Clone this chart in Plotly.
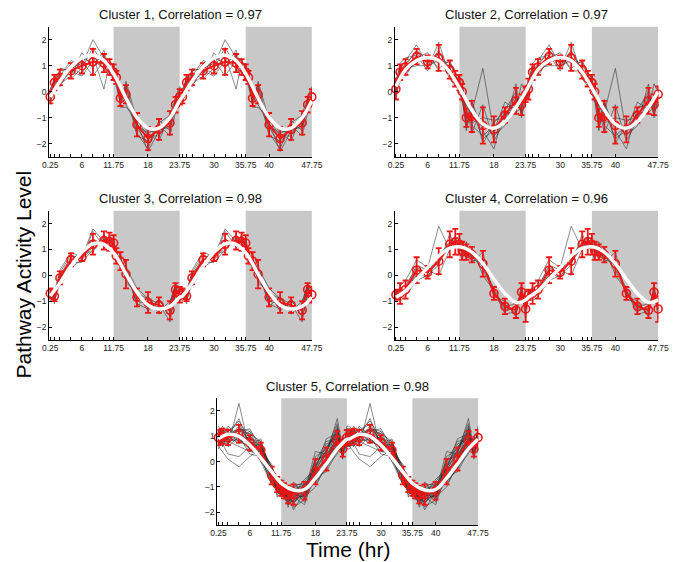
import plotly.graph_objects as go

# ---------------- data ----------------
T_DAY = [0.25, 1, 2, 4, 6, 8, 10, 11, 11.75, 12.25, 13, 14, 16, 18, 20, 22, 23, 23.75]
FIT_T = [0.25, 2, 4, 6, 8, 10, 12, 14, 16, 18, 20, 22, 23.75]

TITLES = ["Cluster 1, Correlation = 0.97", "Cluster 2, Correlation = 0.97",
          "Cluster 3, Correlation = 0.98", "Cluster 4, Correlation = 0.96",
          "Cluster 5, Correlation = 0.98"]

TICK_LABELS = [0.25, 6, 11.75, 18, 23.75, 30, 35.75, 40, 47.75]
TICK_MARKS = [0.25, 1, 2, 4, 6, 8, 10, 11, 11.75, 18, 23.75, 24.25, 25, 26, 28, 30,
              32, 34, 35, 35.75, 40, 47.75]
DARK_PERIODS = [(11.75, 23.75), (35.75, 47.75)]

mean1 = [-0.2, 0.35, 0.55, 0.8, 1.0, 1.15, 1.1, 0.95, 0.75, 0.55, -0.25, -0.1, -1.27, -1.8, -1.45, -1.2, -0.5, -0.2]
err1 = [0.25, 0.3, 0.3, 0.3, 0.3, 0.5, 0.35, 0.3, 0.3, 0.25, 0.3, 0.35, 0.45, 0.45, 0.4, 0.45, 0.3, 0.3]
fit1 = [-0.2, 0.4, 0.95, 1.3, 1.4, 1.2, 0.6, -0.25, -1.0, -1.4, -1.4, -1.0, -0.35]
lines1 = [
    [-0.4, 0.1, 0.6, 1.2, 1.0, 2.0, 1.3, 1.2, 0.9, 0.4, -0.5, 0.2, -1.6, -2.2, -1.1, -1.5, -0.6, -0.3],
    [0.0, 0.6, 0.3, 0.6, 1.5, 0.9, 1.6, 0.8, 0.5, 0.7, 0.0, -0.4, -0.9, -1.6, -1.9, -0.8, -0.3, 0.1],
    [-0.3, 0.3, 0.8, 0.9, 0.7, 1.4, 0.1, 1.1, 1.0, 0.3, -0.3, 0.3, -1.4, -2.0, -1.3, -1.7, -0.8, -0.2],
    [-0.1, 0.5, 0.4, 1.1, 1.2, 0.6, 1.2, 0.7, 0.6, 0.9, -0.6, -0.6, -1.0, -1.5, -1.6, -1.1, -0.4, 0.0],
    [-0.5, 0.2, 0.7, 0.5, 0.9, 1.7, 1.0, 1.3, 0.4, 0.5, 0.2, 0.0, -1.7, -1.9, -1.2, -0.9, -0.7, -0.4],
    [0.1, 0.4, 0.5, 0.7, 1.3, 1.1, 1.4, 0.9, 0.8, 0.6, -0.1, -0.3, -1.2, -2.3, -1.5, -1.3, -0.2, 0.2],
    [-0.2, 0.0, 0.9, 0.8, 0.6, 1.2, 0.9, 0.6, 1.1, 0.2, -0.4, 0.4, -1.1, -1.7, -1.7, -1.0, -0.6, -0.1],
    [-0.3, 0.6, 0.2, 0.9, 1.1, 1.0, 1.2, 1.0, 0.7, 0.7, -0.2, -0.5, -1.3, -1.6, -1.4, -1.4, -0.5, -0.2],
]

mean2 = [0.1, 0.75, 0.95, 1.35, 1.15, 1.3, 0.85, 0.5, 0.35, 0.0, -1.0, -0.95, -1.3, -1.45, -0.9, -0.35, -0.5, -0.1]
err2 = [0.4, 0.3, 0.3, 0.3, 0.25, 0.5, 0.35, 0.3, 0.3, 0.3, 0.35, 0.6, 0.7, 0.5, 0.3, 0.5, 0.4, 0.3]
fit2 = [0.2, 0.85, 1.2, 1.32, 1.2, 0.75, 0.05, -0.7, -1.25, -1.4, -1.15, -0.6, 0.0]
lines2 = [
    [-0.3, 0.6, 1.2, 1.8, 1.0, 1.6, 0.7, 0.3, 0.6, -0.2, -1.5, -0.3, -2.0, -1.2, -0.7, 0.0, -0.9, 0.2],
    [0.4, 1.0, 0.8, 1.1, 1.4, 0.9, 1.2, 0.7, 0.1, 0.3, -0.6, -1.6, -0.5, -1.9, -1.1, -0.6, -0.2, -0.3],
    [0.2, 0.5, 1.1, 1.5, 0.9, 1.9, 0.6, 0.4, 0.5, -0.3, -1.2, -0.8, 0.9, -1.6, -0.8, -0.8, -0.6, 0.0],
    [-0.1, 0.9, 0.7, 1.2, 1.3, 1.1, 1.0, 0.8, 0.2, 0.2, -0.8, -1.3, -1.7, -1.3, -1.2, 0.3, -1.0, -0.2],
    [0.5, 0.7, 1.0, 1.6, 1.2, 1.4, 0.5, 0.2, 0.4, -0.1, -1.1, -0.4, -1.5, -2.2, -0.6, -0.5, -0.3, 0.1],
    [0.0, 0.4, 0.9, 1.0, 1.0, 1.2, 1.1, 0.6, 0.3, 0.1, -0.9, -1.2, -1.0, -1.1, -1.0, -0.1, -0.8, -0.4],
    [0.3, 1.1, 1.3, 1.4, 0.8, 1.5, 0.9, 0.5, 0.6, 0.4, -1.4, -0.7, -1.8, -1.5, -0.4, -0.7, 0.3, 0.0],
    [-0.2, 0.8, 0.6, 1.3, 1.5, 0.8, 0.8, 0.3, 0.0, -0.4, -0.5, -1.0, -1.2, -1.7, -1.3, -0.2, -0.6, -0.1],
]

mean3 = [-0.7, -0.8, -0.1, 0.6, 0.7, 1.2, 1.35, 1.3, 1.25, 0.75, 0.55, 0.05, -0.85, -1.05, -1.15, -1.35, -0.55, -0.75]
err3 = [0.2, 0.2, 0.25, 0.25, 0.15, 0.4, 0.35, 0.35, 0.3, 0.3, 0.35, 0.55, 0.35, 0.4, 0.3, 0.35, 0.25, 0.3]
fit3 = [-0.8, -0.3, 0.35, 0.9, 1.22, 1.2, 0.8, 0.05, -0.65, -1.15, -1.3, -1.2, -0.85]
lines3 = [
    [-0.9, -0.6, 0.1, 0.8, 0.6, 1.7, 1.1, 1.6, 1.0, 0.9, 0.2, 0.4, -1.2, -0.8, -1.5, -1.1, -0.3, -1.0],
    [-0.5, -1.0, -0.3, 0.4, 0.9, 0.9, 1.6, 1.0, 1.5, 0.5, 0.8, -0.3, -0.6, -1.4, -0.9, -1.6, -0.8, -0.5],
    [-0.8, -0.7, 0.0, 0.7, 0.8, 1.4, 1.2, 1.4, 1.3, 1.0, 0.4, 0.2, -1.0, -1.1, -1.3, -1.2, -0.4, -0.9],
    [-0.6, -0.9, -0.2, 0.5, 0.5, 1.0, 1.5, 1.2, 1.1, 0.6, 0.7, -0.2, -0.7, -0.9, -1.1, -1.8, -0.6, -0.6],
    [-1.0, -0.8, 0.2, 0.9, 0.7, 1.8, 1.3, 1.5, 1.4, 0.7, 0.6, 0.1, -1.1, -1.3, -1.0, -1.4, -0.5, -0.8],
    [-0.7, -0.5, -0.4, 0.3, 0.6, 1.1, 1.4, 1.1, 1.2, 0.8, 0.3, -0.1, -0.8, -1.2, -1.2, -1.3, -0.7, -0.7],
    [-0.6, -1.1, 0.0, 0.6, 0.9, 1.3, 1.2, 1.3, 1.2, 0.6, 0.6, 0.3, -0.5, -0.9, -1.4, -1.0, -0.4, -0.6],
]

mean4 = [-0.75, -0.7, -0.55, 0.2, 0.12, 0.55, 1.2, 1.3, 1.2, 0.95, 0.9, 0.8, 0.45, -0.7, -1.2, -1.35, -0.65, -1.3]
err4 = [0.2, 0.4, 0.35, 0.5, 0.25, 0.5, 0.5, 0.5, 0.4, 0.35, 0.3, 0.3, 0.5, 0.25, 0.3, 0.3, 0.35, 0.5]
fit4 = [-0.85, -0.6, -0.15, 0.3, 0.75, 1.05, 1.1, 0.9, 0.45, -0.15, -0.7, -1.05, -0.95]
lines4 = [
    [-0.9, -0.4, -0.2, 0.6, 0.3, 1.9, 1.0, 1.5, 0.9, 0.6, 1.3, 0.5, 0.9, -0.9, -1.1, -1.5, -0.5, -1.7],
    [-0.6, -1.0, -0.8, -0.2, 0.0, 0.4, 1.6, 1.1, 1.4, 1.2, 0.6, 1.1, 0.0, -0.6, -1.4, -1.2, -0.9, -1.0],
    [-0.7, -0.6, -0.5, 0.4, 0.2, 0.0, 1.0, 1.4, 1.5, 0.8, 1.0, 0.7, 0.6, -0.8, -1.0, -1.6, -0.3, -1.4],
    [-0.8, -0.8, -0.7, 0.1, -0.1, 0.7, 1.3, 1.2, 0.9, 1.1, 0.7, 1.0, 0.3, -0.5, -1.3, -1.3, -0.8, -1.2],
    [-0.75, -0.7, -0.55, 0.0, 0.3, 0.5, 1.1, 1.3, 1.2, 1.0, 0.9, 0.6, 0.5, -0.7, -1.2, -1.1, -0.7, -1.3],
    [-0.9, -0.5, -0.4, 0.3, 0.1, 0.8, 1.2, 1.5, 1.0, 0.9, 1.2, 0.8, 0.2, -0.6, -1.5, -1.4, -0.6, -1.1],
]

mean5 = [0.95, 1.0, 0.95, 1.1, 0.75, 0.45, -0.55, -0.9, -1.05, -1.15, -1.3, -1.3, -1.15, -0.4, 0.1, 0.85, 0.5, 0.95]
err5 = [0.3, 0.3, 0.3, 0.35, 0.3, 0.3, 0.35, 0.3, 0.3, 0.3, 0.35, 0.4, 0.35, 0.5, 0.45, 0.35, 0.3, 0.3]
fit5 = [0.9, 1.08, 1.0, 0.65, 0.15, -0.4, -0.9, -1.12, -1.1, -0.65, -0.1, 0.5, 0.88]
lines5 = [
    [1.3, 0.8, 1.2, 1.6, 0.9, 0.6, -0.2, -0.7, -1.2, -0.9, -1.6, -1.0, -1.5, 0.2, 0.5, 1.2, 0.3, 1.2],
    [0.7, 1.2, 0.8, 0.9, 0.5, 0.2, -0.9, -1.1, -0.8, -1.4, -1.1, -1.7, -0.8, -0.8, -0.3, 0.5, 0.8, 0.7],
    [1.0, 1.4, 1.1, 1.3, 1.1, 0.8, -0.4, -1.2, -1.3, -1.0, -1.5, -1.2, -1.3, -0.1, 0.4, 1.3, 0.4, 1.1],
    [0.6, 0.9, 0.6, 2.3, 0.4, 0.3, -0.7, -0.6, -1.0, -1.5, -1.2, -1.5, -0.9, -0.7, 0.0, 0.7, 0.6, 0.8],
    [1.2, 1.0, 1.4, 1.0, 0.9, 0.1, -0.3, -1.0, -1.4, -1.2, -1.8, -1.1, -1.6, -0.2, 0.6, 1.0, 0.2, 1.3],
    [0.9, 0.7, 0.3, 0.2, 0.6, 0.7, -0.8, -0.8, -0.9, -0.9, -1.0, -1.4, -1.0, -0.6, -0.4, 0.4, 0.9, 0.6],
    [1.1, 1.3, 1.0, 1.2, 1.3, 0.5, -0.5, -1.3, -1.1, -1.3, -1.4, -1.9, -1.2, 0.4, 0.3, 1.7, 0.5, 1.0],
    [0.8, 0.6, 1.2, 0.8, 0.6, 0.9, -0.6, -0.9, -1.0, -1.2, -1.3, -0.8, -1.4, -1.0, -0.1, 0.6, 0.7, 0.9],
    [1.4, 1.1, 0.9, 1.4, 0.8, 0.4, -0.1, -0.9, -1.2, -1.1, -1.1, -1.3, -0.7, -0.3, 0.9, 1.1, 0.1, 1.4],
    [0.5, 0.9, 1.0, 0.7, 1.0, 0.0, -0.9, -1.0, -0.7, -1.3, -1.6, -1.4, -1.2, -0.5, 0.2, 0.9, 1.0, 0.5],
    [1.0, 1.0, 0.7, 1.1, 0.7, 0.6, -0.4, -0.8, -1.1, -1.0, -1.2, -1.2, -1.1, -0.4, 0.1, 0.8, 0.5, 1.0],
    [0.9, 1.2, 1.3, 0.9, 0.5, 0.3, -0.6, -1.1, -1.0, -1.2, -1.3, -1.0, -1.0, -0.6, -0.2, 0.7, 0.6, 0.8],
    [1.1, 0.8, 0.8, 1.3, 1.2, 0.7, -0.3, -0.6, -1.3, -1.1, -1.5, -1.6, -1.3, 0.0, 0.4, 1.4, 0.2, 1.2],
    [0.7, 1.1, 1.1, 1.0, 0.3, 0.2, -0.7, -1.2, -0.9, -1.2, -1.0, -1.1, -0.9, -0.9, -0.2, 0.3, 0.9, 0.7],
    [0.6, 0.4, 0.1, -0.2, 0.2, 0.5, -0.5, -0.9, -1.0, -1.1, -1.2, -1.3, -1.4, -0.2, 0.3, 0.9, 0.5, 0.6],
    [1.2, 1.3, 0.9, 0.8, 1.0, 0.6, -0.2, -1.0, -1.3, -1.4, -1.7, -1.5, -1.3, -0.6, 0.4, 1.1, 0.8, 1.1],
    [0.8, 0.9, 1.2, 1.5, 0.7, 0.1, -0.8, -1.2, -1.1, -1.0, -1.3, -1.0, -0.8, -0.2, 0.7, 0.9, 0.4, 0.9],
    [1.0, 0.7, 1.0, 1.1, 0.9, 0.8, -0.6, -0.7, -1.2, -1.3, -1.1, -1.8, -1.5, -0.7, -0.1, 1.2, 0.6, 1.0],
    [0.6, 1.1, 0.8, 0.6, 0.4, 0.4, -0.2, -1.4, -0.9, -1.0, -1.4, -1.2, -1.1, 0.1, 0.2, 0.6, 0.8, 0.6],
    [1.3, 1.0, 1.1, 1.2, 1.1, 0.2, -0.9, -0.9, -1.0, -1.2, -1.5, -1.4, -1.7, -0.4, 0.5, 1.5, 0.3, 1.3],
    [0.9, 1.3, 0.6, 1.0, 0.8, 0.5, -0.4, -1.1, -1.4, -1.1, -1.2, -1.1, -1.0, -0.8, 0.0, 0.8, 0.7, 0.9],
    [1.1, 0.6, 1.0, 1.7, 0.6, 0.7, -0.7, -0.8, -0.8, -1.3, -1.4, -1.6, -1.2, 0.0, 0.8, 0.9, 0.5, 1.1],
    [0.7, 1.0, 1.3, 0.9, 1.2, 0.3, -0.3, -1.0, -1.1, -0.9, -1.0, -1.3, -1.4, -0.5, -0.3, 1.0, 0.2, 0.7],
    [1.0, 1.2, 0.9, 1.3, 0.5, 0.6, -0.6, -0.9, -1.2, -1.4, -1.6, -0.9, -0.9, -0.3, 0.3, 0.7, 0.9, 1.0],
    [1.2, 0.9, 1.1, 0.8, 0.8, 0.0, -0.5, -1.2, -1.0, -1.2, -1.1, -1.5, -1.3, -0.6, 0.1, 1.3, 0.4, 1.2],
]

MEANS = [mean1, mean2, mean3, mean4, mean5]
ERRS = [err1, err2, err3, err4, err5]
FITS = [fit1, fit2, fit3, fit4, fit5]
LINES = [lines1, lines2, lines3, lines4, lines5]

# ---------------- layout geometry (pixels) ----------------
W, H = 685, 562
PANELS = [(43.3, 313.3, 26.7, 156.7), (398.3, 669.0, 26.7, 156.7),
          (43.3, 313.3, 210.7, 340.0), (398.3, 669.0, 210.7, 340.0),
          (216.0, 484.0, 398.3, 525.0)]

RED = "rgb(240,20,20)"
FONT = "Liberation Sans, Arial, Helvetica, sans-serif"


def two_days(vals):
    return list(vals) + list(vals)


X2 = list(T_DAY) + [t + 24 for t in T_DAY]
FX2 = list(FIT_T) + [t + 24 for t in FIT_T]

fig = go.Figure()
layout = dict(width=W, height=H, margin=dict(l=0, r=0, t=0, b=0),
              paper_bgcolor="white", plot_bgcolor="white", showlegend=False,
              font=dict(family=FONT, color="#222"))
annotations = []
shapes = []

for i in range(5):
    xn = "" if i == 0 else str(i + 1)
    xref, yref = "x" + xn, "y" + xn
    x0, x1, y0, y1 = PANELS[i]

    # individual pathways (gray)
    gx, gy = [], []
    for ln in LINES[i]:
        gx += X2 + [None]
        gy += two_days(ln) + [None]
    fig.add_trace(go.Scatter(x=gx, y=gy, mode="lines", xaxis=xref, yaxis=yref,
                             line=dict(color="rgba(45,45,45,0.7)", width=0.8),
                             hoverinfo="skip"))
    # mean with error bars
    fig.add_trace(go.Scatter(x=X2, y=two_days(MEANS[i]), mode="lines+markers",
                             xaxis=xref, yaxis=yref, cliponaxis=False,
                             line=dict(color=RED, width=2),
                             marker=dict(symbol="circle-open", size=8, color=RED,
                                         line=dict(color=RED, width=1.6)),
                             error_y=dict(type="data", array=two_days(ERRS[i]),
                                          color=RED, thickness=1.8, width=3)))
    # fitted curve (white)
    fig.add_trace(go.Scatter(x=FX2, y=two_days(FITS[i]), mode="lines",
                             xaxis=xref, yaxis=yref,
                             line=dict(color="white", width=3.5, shape="spline",
                                       smoothing=1.0)))

    for a, b in DARK_PERIODS:
        shapes.append(dict(type="rect", xref=xref, yref=yref + " domain",
                           x0=a, x1=b, y0=0, y1=1, fillcolor="rgb(200,200,200)",
                           line=dict(width=0), layer="below"))

    ticktext = [(("%g" % v) if v in TICK_LABELS else "") for v in TICK_MARKS]
    layout["xaxis" + xn] = dict(domain=[x0 / W, x1 / W], anchor=yref,
                                range=[0.05, 47.8], tickvals=TICK_MARKS,
                                ticktext=ticktext, ticks="inside", ticklen=3,
                                tickcolor="black", showline=True, linecolor="black",
                                linewidth=1, showgrid=False, zeroline=False,
                                tickfont=dict(size=8.5, color="#222"))
    layout["yaxis" + xn] = dict(domain=[1 - y1 / H, 1 - y0 / H], anchor=xref,
                                range=[-2.5, 2.5], tickvals=[-2, -1, 0, 1, 2],
                                ticks="inside", ticklen=3, tickcolor="black",
                                showline=True, linecolor="black", linewidth=1,
                                showgrid=False, zeroline=False,
                                tickfont=dict(size=8.5, color="#222"))
    annotations.append(dict(text=TITLES[i], xref="paper", yref="paper",
                            x=(x0 + x1) / 2 / W, y=1 - (y0 - 12) / H,
                            xanchor="center", yanchor="middle", showarrow=False,
                            font=dict(size=13, color="#111", family=FONT)))

annotations.append(dict(text="Pathway Activity Level", xref="paper", yref="paper",
                        x=17 / W, y=1 - 275 / H, textangle=-90, showarrow=False,
                        xanchor="center", yanchor="middle",
                        font=dict(size=21, color="black", family=FONT)))
annotations.append(dict(text="Time (hr)", xref="paper", yref="paper",
                        x=350 / W, y=1 - 549 / H, showarrow=False,
                        xanchor="center", yanchor="middle",
                        font=dict(size=21, color="black", family=FONT)))

layout["annotations"] = annotations
layout["shapes"] = shapes
fig.update_layout(**layout)
fig.write_html("out.html", config={"displayModeBar": False},
               post_script="document.body.style.margin='0';"
                           "document.body.style.overflow='hidden';")
